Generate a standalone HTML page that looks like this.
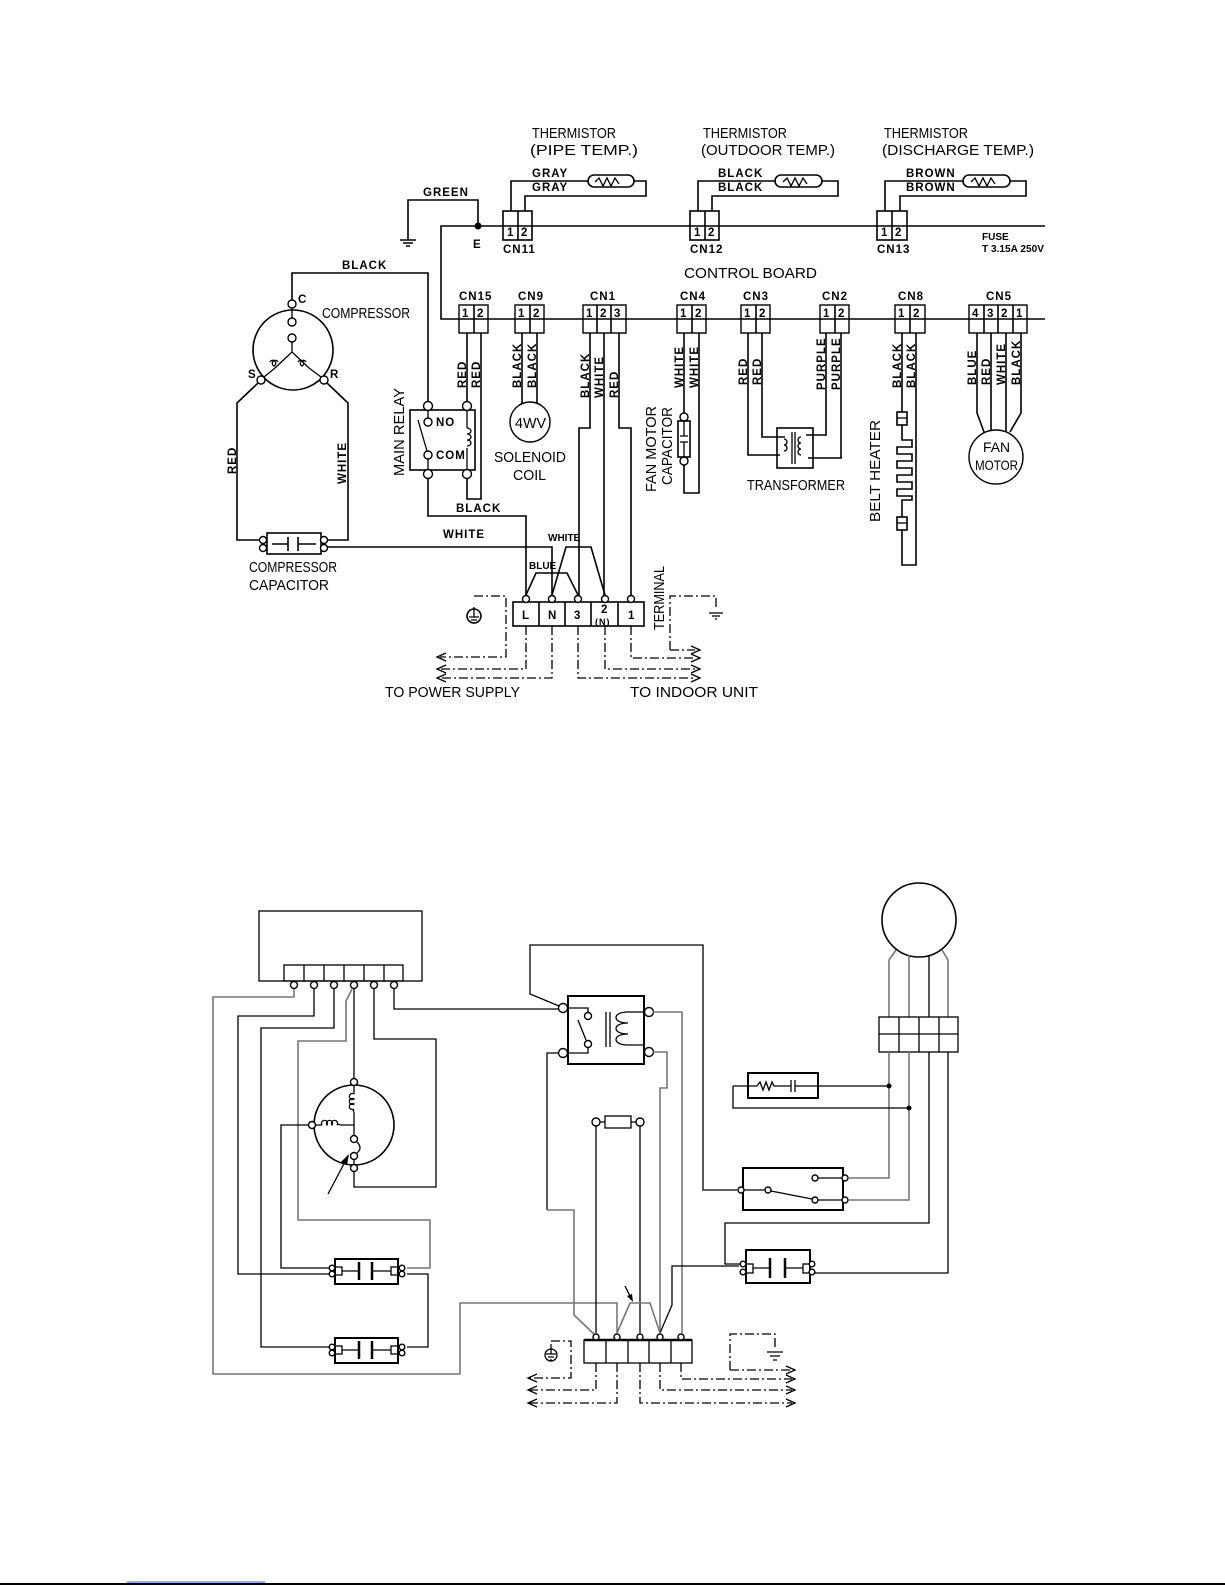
<!DOCTYPE html>
<html><head><meta charset="utf-8"><style>
html,body{margin:0;padding:0;background:#fff;}
svg{display:block;}
text{font-family:"Liberation Sans",sans-serif;fill:#000;}
.t{font-size:15px;}
.s{font-size:11.5px;font-weight:bold;letter-spacing:1px;}
.w{fill:none;stroke:#000;stroke-width:1.6;}
.b{fill:none;stroke:#000;stroke-width:1.3;}
.g{fill:none;stroke:#777;stroke-width:1.6;}
.d{fill:none;stroke:#000;stroke-width:1.3;stroke-dasharray:9 3 2 3;}
.c{fill:#fff;stroke:#000;stroke-width:1.4;}
</style></head><body>
<svg width="1225" height="1585" viewBox="0 0 1225 1585" xmlns="http://www.w3.org/2000/svg">
<path class="w" d="M1045,226 H441 V319 H1045"/>
<text class="t" x="684" y="278" textLength="133" lengthAdjust="spacingAndGlyphs">CONTROL BOARD</text>
<text x="982" y="240" style="font-size:10px;font-weight:bold">FUSE</text>
<text x="982" y="252" style="font-size:10px;font-weight:bold" textLength="62" lengthAdjust="spacingAndGlyphs">T 3.15A 250V</text>
<path class="w" d="M408,240 V200 H478 V226"/>
<circle cx="478" cy="226" r="3.5"/>
<path class="w" d="M400,240 H416 M403,243 H413 M406,246 H410"/>
<text class="s" x="423" y="196">GREEN</text>
<text class="s" x="473" y="248">E</text>
<g>
<text class="t" x="532" y="138" textLength="84" lengthAdjust="spacingAndGlyphs">THERMISTOR</text>
<text class="t" x="530" y="155" textLength="108" lengthAdjust="spacingAndGlyphs">(PIPE TEMP.)</text>
<text class="s" x="532" y="177">GRAY</text><text class="s" x="532" y="191">GRAY</text>
<path class="w" d="M511,211 V181 H588 M634,181 H646 V196 H525 V211"/>
<rect class="w" x="588" y="175" width="46" height="12" rx="6"/>
<path class="b" d="M595,182 l4,-4 l4,8 l4,-8 l4,8 l4,-8 l4,6"/>
<rect class="w" x="503" y="211" width="29" height="29"/><path class="w" d="M518,211 V240"/>
<text class="s" x="507" y="236">1</text><text class="s" x="521" y="236">2</text>
<text class="s" x="503" y="253">CN11</text>
</g>
<g>
<text class="t" x="703" y="138" textLength="84" lengthAdjust="spacingAndGlyphs">THERMISTOR</text>
<text class="t" x="701" y="155" textLength="134" lengthAdjust="spacingAndGlyphs">(OUTDOOR TEMP.)</text>
<text class="s" x="718" y="177">BLACK</text><text class="s" x="718" y="191">BLACK</text>
<path class="w" d="M698,211 V181 H775 M822,181 H838 V196 H712 V211"/>
<rect class="w" x="775" y="175" width="47" height="12" rx="6"/>
<path class="b" d="M783,182 l4,-4 l4,8 l4,-8 l4,8 l4,-8 l4,6"/>
<rect class="w" x="690" y="211" width="29" height="29"/><path class="w" d="M705,211 V240"/>
<text class="s" x="694" y="236">1</text><text class="s" x="708" y="236">2</text>
<text class="s" x="690" y="253">CN12</text>
</g>
<g>
<text class="t" x="884" y="138" textLength="84" lengthAdjust="spacingAndGlyphs">THERMISTOR</text>
<text class="t" x="882" y="155" textLength="152" lengthAdjust="spacingAndGlyphs">(DISCHARGE TEMP.)</text>
<text class="s" x="906" y="177">BROWN</text><text class="s" x="906" y="191">BROWN</text>
<path class="w" d="M885,211 V181 H963 M1010,181 H1026 V196 H900 V211"/>
<rect class="w" x="963" y="175" width="47" height="12" rx="6"/>
<path class="b" d="M971,182 l4,-4 l4,8 l4,-8 l4,8 l4,-8 l4,6"/>
<rect class="w" x="877" y="211" width="30" height="29"/><path class="w" d="M892,211 V240"/>
<text class="s" x="881" y="236">1</text><text class="s" x="895" y="236">2</text>
<text class="s" x="877" y="253">CN13</text>
</g>
<g>
<rect class="c" x="459" y="305" width="29" height="28"/><path class="w" d="M474,305V333 M459,319H488"/>
<text class="s" x="462" y="317">1</text><text class="s" x="477" y="317">2</text><text class="s" x="459" y="300">CN15</text>
<rect class="c" x="515" y="305" width="29" height="28"/><path class="w" d="M530,305V333 M515,319H544"/>
<text class="s" x="518" y="317">1</text><text class="s" x="533" y="317">2</text><text class="s" x="518" y="300">CN9</text>
<rect class="c" x="583" y="305" width="43" height="28"/><path class="w" d="M597,305V333 M611,305V333 M583,319H626"/>
<text class="s" x="586" y="317">1</text><text class="s" x="600" y="317">2</text><text class="s" x="614" y="317">3</text><text class="s" x="590" y="300">CN1</text>
<rect class="c" x="677" y="305" width="29" height="28"/><path class="w" d="M692,305V333 M677,319H706"/>
<text class="s" x="680" y="317">1</text><text class="s" x="695" y="317">2</text><text class="s" x="680" y="300">CN4</text>
<rect class="c" x="741" y="305" width="29" height="28"/><path class="w" d="M756,305V333 M741,319H770"/>
<text class="s" x="744" y="317">1</text><text class="s" x="759" y="317">2</text><text class="s" x="743" y="300">CN3</text>
<rect class="c" x="820" y="305" width="29" height="28"/><path class="w" d="M835,305V333 M820,319H849"/>
<text class="s" x="823" y="317">1</text><text class="s" x="838" y="317">2</text><text class="s" x="822" y="300">CN2</text>
<rect class="c" x="895" y="305" width="30" height="28"/><path class="w" d="M910,305V333 M895,319H925"/>
<text class="s" x="898" y="317">1</text><text class="s" x="913" y="317">2</text><text class="s" x="898" y="300">CN8</text>
<rect class="c" x="969" y="305" width="58" height="28"/><path class="w" d="M984,305V333 M998,305V333 M1013,305V333 M969,319H1027"/>
<text class="s" x="972" y="317">4</text><text class="s" x="987" y="317">3</text><text class="s" x="1001" y="317">2</text><text class="s" x="1016" y="317">1</text><text class="s" x="986" y="300">CN5</text>
</g>
<g>
<text class="s" transform="translate(466,388) rotate(-90)">RED</text>
<text class="s" transform="translate(480,388) rotate(-90)">RED</text>
<text class="s" transform="translate(521,388) rotate(-90)">BLACK</text>
<text class="s" transform="translate(536,388) rotate(-90)">BLACK</text>
<text class="s" transform="translate(589,398) rotate(-90)">BLACK</text>
<text class="s" transform="translate(603,398) rotate(-90)">WHITE</text>
<text class="s" transform="translate(618,398) rotate(-90)">RED</text>
<text class="s" transform="translate(683,388) rotate(-90)">WHITE</text>
<text class="s" transform="translate(698,388) rotate(-90)">WHITE</text>
<text class="s" transform="translate(747,385) rotate(-90)">RED</text>
<text class="s" transform="translate(761,385) rotate(-90)">RED</text>
<text class="s" transform="translate(825,390) rotate(-90)">PURPLE</text>
<text class="s" transform="translate(840,390) rotate(-90)">PURPLE</text>
<text class="s" transform="translate(901,388) rotate(-90)">BLACK</text>
<text class="s" transform="translate(915,388) rotate(-90)">BLACK</text>
<text class="s" transform="translate(976,385) rotate(-90)">BLUE</text>
<text class="s" transform="translate(990,385) rotate(-90)">RED</text>
<text class="s" transform="translate(1005,385) rotate(-90)">WHITE</text>
<text class="s" transform="translate(1020,385) rotate(-90)">BLACK</text>
</g>
<circle class="w" cx="293" cy="350" r="40"/>
<circle class="c" cx="292" cy="304" r="4"/>
<circle class="c" cx="292" cy="322" r="4"/>
<circle class="c" cx="292" cy="338" r="4"/>
<path class="b" d="M292,308 V318 M292,342 V352 L275,368 M292,352 L309,368"/>
<path class="b" d="M270,362 a3,3 0 1 1 4,4 a3,3 0 1 1 4,-4 M306,362 a3,3 0 1 0 -4,4 a3,3 0 1 0 -4,-4"/>
<path class="b" d="M275,368 L264,377 M309,368 L321,377"/>
<circle class="c" cx="261" cy="380" r="4"/>
<circle class="c" cx="324" cy="380" r="4"/>
<text class="s" x="298" y="303">C</text>
<text class="s" x="248" y="378">S</text>
<text class="s" x="330" y="378">R</text>
<text class="t" x="322" y="318" textLength="88" lengthAdjust="spacingAndGlyphs">COMPRESSOR</text>
<path class="w" d="M292,300 V273 H428 V405"/>
<text class="s" x="342" y="269">BLACK</text>
<path class="w" d="M258,383 L237,403 V540 H259 M327,383 L348,403 V540 H327"/>
<text class="s" transform="translate(236,474) rotate(-90)">RED</text>
<text class="s" transform="translate(346,484) rotate(-90)">WHITE</text>
<rect class="w" x="267" y="533" width="54" height="21"/>
<path class="w" d="M272,544 H288 M298,544 H316 M288,537 V551 M298,537 V551"/>
<circle class="c" cx="263" cy="540" r="3.5"/><circle class="c" cx="263" cy="548" r="3.5"/>
<circle class="c" cx="324" cy="540" r="3.5"/><circle class="c" cx="324" cy="548" r="3.5"/>
<path class="w" d="M327,547 H552 V595"/>
<text class="s" x="443" y="538">WHITE</text>
<text class="t" x="249" y="572" textLength="88" lengthAdjust="spacingAndGlyphs">COMPRESSOR</text>
<text class="t" x="249" y="590" textLength="80" lengthAdjust="spacingAndGlyphs">CAPACITOR</text>
<rect class="w" x="410" y="410" width="65" height="60"/>
<circle class="c" cx="428" cy="406" r="4.5"/><circle class="c" cx="467" cy="406" r="4.5"/>
<circle class="c" cx="428" cy="474" r="4.5"/><circle class="c" cx="467" cy="474" r="4.5"/>
<circle class="c" cx="428" cy="422" r="4"/><circle class="c" cx="428" cy="455" r="4"/>
<path class="b" d="M428,410 V418 M428,459 V470 M418,420 L427,451 M467,410 V428 M467,448 V470"/>
<path class="b" d="M467,428 a4,3 0 1 1 0,6 a4,3 0 1 1 0,6 a4,3 0 1 1 0,6"/>
<text class="s" x="436" y="426">NO</text>
<text class="s" x="436" y="459">COM</text>
<text class="t" transform="translate(404,476) rotate(-90)" textLength="88" lengthAdjust="spacingAndGlyphs">MAIN RELAY</text>
<path class="w" d="M467,333 V402 M481,333 V499 H467 V478"/>
<path class="w" d="M428,478 V516 H526 V595"/>
<text class="s" x="456" y="512">BLACK</text>
<path class="w" d="M522,333 V403 M537,333 V405"/>
<circle class="c" cx="530" cy="422" r="20"/>
<text class="t" x="515" y="428" textLength="31" lengthAdjust="spacingAndGlyphs">4WV</text>
<text class="t" x="494" y="462" textLength="72" lengthAdjust="spacingAndGlyphs">SOLENOID</text>
<text class="t" x="513" y="480" textLength="33" lengthAdjust="spacingAndGlyphs">COIL</text>
<path class="w" d="M590,333 V428 H579 V595 M604,333 V595 M619,333 V428 H631 V595"/>
<path class="w" d="M526,595 L536,573 H567 L578,595"/>
<path class="w" d="M552,595 L566,547 H591 L605,595"/>
<text x="529" y="569" style="font-size:10px;font-weight:bold">BLUE</text>
<text x="548" y="541" style="font-size:10px;font-weight:bold">WHITE</text>
<rect class="w" x="513" y="602" width="131" height="24"/>
<path class="w" d="M539,602V626 M565,602V626 M591,602V626 M618,602V626"/>
<circle class="c" cx="526" cy="599" r="3.5"/><circle class="c" cx="552" cy="599" r="3.5"/><circle class="c" cx="578" cy="599" r="3.5"/><circle class="c" cx="605" cy="599" r="3.5"/><circle class="c" cx="631" cy="599" r="3.5"/>
<text class="s" x="522" y="619">L</text><text class="s" x="548" y="619">N</text><text class="s" x="574" y="619">3</text><text class="s" x="601" y="613">2</text><text class="s" x="595" y="625" style="font-size:9px">(N)</text><text class="s" x="628" y="619">1</text>
<text class="t" transform="translate(664,630) rotate(-90)" textLength="64" lengthAdjust="spacingAndGlyphs">TERMINAL</text>
<circle class="w" cx="474" cy="616" r="7"/>
<path class="b" d="M474,607 V617 M469,617 H479 M471,620 H477 M473,623 H475"/>
<path class="d" d="M474,596 H506 V657 H440"/>
<path class="d" d="M526,626 V669 H440 M552,626 V678 H440"/>
<path class="d" d="M578,626 V678 H695 M605,626 V669 H695 M631,626 V658 H695"/>
<path class="d" d="M670,650 H695 M670,650 V596 H716 V610"/>
<path class="b" d="M709,613 H723 M712,616 H720 M715,619 H717"/>
<path class="b" d="M446,653 L437,657 L446,661 M446,665 L437,669 L446,673 M446,674 L437,678 L446,682"/>
<path class="b" d="M691,646 L700,650 L691,654 M691,654 L700,658 L691,662 M691,665 L700,669 L691,673 M691,674 L700,678 L691,682"/>
<text class="t" x="385" y="697" textLength="135" lengthAdjust="spacingAndGlyphs">TO POWER SUPPLY</text>
<text class="t" x="630" y="697" textLength="128" lengthAdjust="spacingAndGlyphs">TO INDOOR UNIT</text>
<path class="w" d="M684,333 V413 M684,465 V493 H699 V333"/>
<circle class="c" cx="684" cy="417" r="4"/><circle class="c" cx="684" cy="461" r="4"/>
<rect class="w" x="678" y="421" width="12" height="36"/>
<path class="b" d="M684,421 V436 M684,442 V457 M680,436 H688 M680,442 H688"/>
<text class="t" transform="translate(656,492) rotate(-90)" textLength="86" lengthAdjust="spacingAndGlyphs">FAN MOTOR</text>
<text class="t" transform="translate(672,485) rotate(-90)" textLength="78" lengthAdjust="spacingAndGlyphs">CAPACITOR</text>
<rect class="w" x="777" y="428" width="36" height="40"/>
<path class="w" d="M748,333 V455 H780 M762,333 V437 H785 M826,333 V435 H806 M841,333 V458 H808"/>
<path class="b" d="M784,439 a3,3 0 1 1 0,6 a3,3 0 1 1 0,6 M792,432 V464 M795,432 V464 M801,437 a3,3 0 1 0 0,6 a3,3 0 1 0 0,6 a3,3 0 1 0 0,6"/>
<text class="t" x="747" y="490" textLength="98" lengthAdjust="spacingAndGlyphs">TRANSFORMER</text>
<path class="w" d="M902,333 V412 M902,425 V440 H912 V447 H897 V454 H912 V461 H897 V468 H912 V475 H897 V482 H912 V489 H897 V496 H912 V500 H902 V517 M902,530 V565 H916 V333"/>
<rect class="w" x="897" y="412" width="10" height="13"/><path class="b" d="M897,418 H907"/>
<rect class="w" x="897" y="517" width="10" height="13"/><path class="b" d="M897,523 H907"/>
<text class="t" transform="translate(880,522) rotate(-90)" textLength="102" lengthAdjust="spacingAndGlyphs">BELT HEATER</text>
<path class="w" d="M977,333 V413 L984,432 M991,333 V431 M1006,333 V431 M1021,333 V413 L1010,432"/>
<circle class="c" cx="996" cy="457" r="27"/>
<text x="983" y="452" style="font-size:14px" textLength="27" lengthAdjust="spacingAndGlyphs">FAN</text>
<text x="975" y="470" style="font-size:14px" textLength="43" lengthAdjust="spacingAndGlyphs">MOTOR</text>

<rect class="b" x="259" y="911" width="163" height="70"/>
<rect class="b" x="284" y="965" width="119" height="16"/>
<path class="b" d="M304,965V981 M324,965V981 M344,965V981 M364,965V981 M384,965V981"/>
<g class="c"><circle cx="294" cy="985" r="3.5"/><circle cx="314" cy="985" r="3.5"/><circle cx="334" cy="985" r="3.5"/><circle cx="354" cy="985" r="3.5"/><circle cx="374" cy="985" r="3.5"/><circle cx="394" cy="985" r="3.5"/></g>
<path class="g" d="M294,989 V997 H213 V1374 H460 V1303 H617 V1333"/>
<path class="b" d="M314,989 V1016 H238 V1274 H329"/>
<path class="b" d="M334,989 V1028 H261 V1347 H329"/>
<path class="g" d="M352,989 L346,1001 V1041 H298 V1220 H430 V1268 H407"/>
<path class="b" d="M354,989 V1078"/>
<path class="b" d="M374,989 V1039 H436 V1187 H354 V1172"/>
<path class="b" d="M407,1274 H428 V1347 H407"/>
<path class="b" d="M394,989 V1009 H559"/>
<circle class="w" cx="354" cy="1125" r="40"/>
<circle class="c" cx="354" cy="1082" r="3.5"/><circle class="c" cx="312" cy="1125" r="3.5"/><circle class="c" cx="354" cy="1168" r="3.5"/>
<path class="b" d="M354,1086 V1094 M354,1112 V1137 M316,1125 H322 M340,1125 H354 M354,1160 V1164"/>
<path class="b" d="M354,1094 a3,3 0 1 0 0,5 a3,3 0 1 0 0,5 a3,3 0 1 0 0,5 a2,2 0 0 0 0,3 M322,1125 a3,3 0 1 1 5,0 a3,3 0 1 1 5,0 a3,3 0 1 1 5,0 a2,2 0 0 1 3,0"/>
<circle class="c" cx="354" cy="1139" r="3.5"/><circle class="c" cx="354" cy="1156" r="3.5"/>
<path class="b" d="M357,1142 q6,6 0,11"/>
<path class="b" d="M328,1194 L346,1160"/><path d="M349,1154 L341,1162 L347,1165 Z"/>
<path class="b" d="M308,1125 H281 V1268 H329"/>
<g>
<rect x="335" y="1259" width="63" height="25" fill="none" stroke="#000" stroke-width="2"/>
<path class="b" d="M342,1271 H359 M372,1271 H391"/><path d="M359,1262V1280 M372,1262V1280" stroke="#000" stroke-width="2.5"/>
<rect class="b" x="335" y="1267" width="7" height="8"/><rect class="b" x="391" y="1267" width="7" height="8"/>
<circle class="c" cx="332" cy="1268" r="2.8"/><circle class="c" cx="332" cy="1274" r="2.8"/><circle class="c" cx="402" cy="1268" r="2.8"/><circle class="c" cx="402" cy="1274" r="2.8"/>
</g>
<g transform="translate(0,79)">
<rect x="335" y="1259" width="63" height="25" fill="none" stroke="#000" stroke-width="2"/>
<path class="b" d="M342,1271 H359 M372,1271 H391"/><path d="M359,1262V1280 M372,1262V1280" stroke="#000" stroke-width="2.5"/>
<rect class="b" x="335" y="1267" width="7" height="8"/><rect class="b" x="391" y="1267" width="7" height="8"/>
<circle class="c" cx="332" cy="1268" r="2.8"/><circle class="c" cx="332" cy="1274" r="2.8"/><circle class="c" cx="402" cy="1268" r="2.8"/><circle class="c" cx="402" cy="1274" r="2.8"/>
</g>
<rect x="568" y="996" width="76" height="68" fill="none" stroke="#000" stroke-width="2"/>
<circle class="c" cx="563" cy="1008" r="4.5"/><circle class="c" cx="563" cy="1053" r="4.5"/><circle class="c" cx="649" cy="1012" r="4.5"/><circle class="c" cx="649" cy="1052" r="4.5"/>
<circle class="c" cx="588" cy="1016" r="3.5"/><circle class="c" cx="588" cy="1044" r="3.5"/>
<path class="b" d="M567,1008 H588 V1012 M567,1053 H588 V1048 M578,1020 L586,1040 M606,1012 V1047 M610,1012 V1047"/>
<path class="b" d="M645,1012 H628 c-16,0 -16,11 0,11 c-16,0 -16,11 0,11 c-16,0 -16,11 0,11 H645"/>
<path class="b" d="M559,1006 L530,994 V945 H703 V1190 H737"/>
<path class="g" d="M653,1012 H682 V1333"/>
<path class="g" d="M653,1052 H667 V1088 H660 V1333"/>
<path class="b" d="M559,1053 H547 V1210"/><path class="g" d="M547,1210 H574 V1315 L594,1334"/>
<circle class="c" cx="596" cy="1122" r="4"/><circle class="c" cx="640" cy="1122" r="4"/>
<rect class="b" x="605" y="1116" width="26" height="12"/><path class="b" d="M600,1122 H605 M631,1122 H636 M596,1126 V1333 M640,1126 V1333"/>
<path class="b" d="M660,1333 L672,1305 V1266 H739"/>
<path class="g" d="M617,1333 L630,1303 H650 L660,1333"/>
<path class="b" d="M625,1286 L631,1298"/><path d="M633,1302 L627,1296 L632,1294 Z"/>
<rect class="b" x="584" y="1340" width="108" height="23"/>
<path d="M584,1340 H692" stroke="#000" stroke-width="2.5"/>
<path class="b" d="M606,1340V1363 M628,1340V1363 M649,1340V1363 M671,1340V1363"/>
<g class="c"><circle cx="596" cy="1337" r="3"/><circle cx="617" cy="1337" r="3"/><circle cx="640" cy="1337" r="3"/><circle cx="660" cy="1337" r="3"/><circle cx="681" cy="1337" r="3"/></g>
<circle class="b" cx="551" cy="1355" r="6"/><path class="b" d="M551,1344 V1354 M546,1354 H556 M548,1357 H554 M550,1360 H552"/>
<path class="d" d="M551,1341 H571 V1378 H530 M596,1363 V1390 H530 M617,1363 V1403 H530"/>
<path class="d" d="M640,1363 V1403 H792 M660,1363 V1390 H792 M681,1363 V1379 H792 M730,1370 H792 M730,1370 V1334 H775 V1350"/>
<path class="b" d="M767,1352 H783 M770,1356 H780 M773,1360 H777"/>
<path class="b" d="M537,1374 L528,1378 L537,1382 M537,1386 L528,1390 L537,1394 M537,1399 L528,1403 L537,1407"/>
<path class="b" d="M786,1366 L795,1370 L786,1374 M786,1375 L795,1379 L786,1383 M786,1386 L795,1390 L786,1394 M786,1399 L795,1403 L786,1407"/>
<circle class="w" cx="919" cy="920" r="37"/>
<path class="g" d="M896,950 L889,960 V1017 M909,955 V1017 M942,950 L948,960 V1017"/><path class="b" d="M929,955 V1017"/>
<rect class="b" x="879" y="1017" width="79" height="35"/><path class="b" d="M879,1034 H958 M899,1017V1052 M919,1017V1052 M939,1017V1052"/>
<path class="g" d="M889,1052 V1178 H849 M909,1052 V1200 H849"/>
<path class="b" d="M929,1052 V1223 H725 V1264 H740 M948,1052 V1273 H815"/>
<circle cx="889" cy="1086" r="2.5"/><circle cx="909" cy="1108" r="2.5"/>
<rect x="748" y="1073" width="70" height="25" fill="none" stroke="#000" stroke-width="2"/>
<path class="b" d="M733,1086 H757 l3,-4 l3,8 l3,-8 l3,8 l3,-8 l2,4 H791 M795,1086 H818 H889 M791,1080 V1092 M795,1080 V1092 M733,1086 V1108 H909"/>
<rect x="743" y="1168" width="100" height="42" fill="none" stroke="#000" stroke-width="2"/>
<g class="c"><circle cx="741" cy="1190" r="3"/><circle cx="768" cy="1190" r="3"/><circle cx="815" cy="1178" r="3"/><circle cx="845" cy="1178" r="3"/><circle cx="815" cy="1200" r="3"/><circle cx="845" cy="1200" r="3"/></g>
<path class="b" d="M744,1190 H765 M818,1178 H842 M818,1200 H842 M771,1191 L812,1199"/>
<rect x="746" y="1250" width="64" height="33" fill="none" stroke="#000" stroke-width="2"/>
<rect class="b" x="746" y="1264" width="7" height="9"/><rect class="b" x="803" y="1264" width="7" height="9"/>
<path class="b" d="M753,1268 H770 M785,1268 H803"/><path d="M770,1258V1278 M785,1258V1278" stroke="#000" stroke-width="2.5"/>
<g class="c"><circle cx="743" cy="1264" r="2.8"/><circle cx="743" cy="1272" r="2.8"/><circle cx="812" cy="1264" r="2.8"/><circle cx="812" cy="1272" r="2.8"/></g>
<path d="M127,1582 H265" stroke="#3355cc" stroke-width="1"/>
<path d="M0,1584 H1225" stroke="#000" stroke-width="2"/>
</svg>
</body></html>
